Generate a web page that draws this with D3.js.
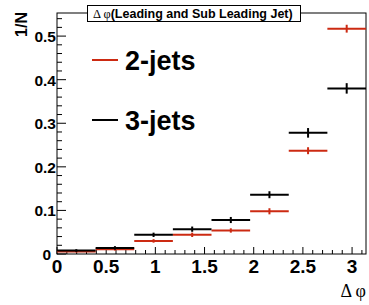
<!DOCTYPE html>
<html>
<head>
<meta charset="utf-8">
<script src="https://cdn.jsdelivr.net/npm/d3@7"></script>
<style>
  body { margin: 0; background: #fff; }
  text { font-family: "Liberation Sans", Arial, sans-serif; font-weight: bold; }
</style>
</head>
<body>
<div id="chartDiv"></div>
<script>
// bin contents (normalised), 8 bins over 0..pi
const binCount = 8;
const twoJets = [0.006, 0.011, 0.030, 0.044, 0.054, 0.098, 0.237, 0.517];
const twoJetsErr = [0.002, 0.003, 0.004, 0.005, 0.005, 0.007, 0.008, 0.009];
const threeJets = [0.008, 0.014, 0.044, 0.057, 0.078, 0.136, 0.278, 0.380];
const threeJetsErr = [0.003, 0.004, 0.005, 0.006, 0.007, 0.008, 0.011, 0.012];
const xTicks = [0, 0.5, 1, 1.5, 2, 2.5, 3];
const yTicks = [0, 0.1, 0.2, 0.3, 0.4, 0.5];
const seriesNames = ["2-jets", "3-jets"];
const seriesColors = ["#cc2a12", "#000000"];

const W = 369, H = 305;
const margin = { top: 13, right: 3, bottom: 51, left: 57 },
    width = W - margin.left - margin.right,
    height = H - margin.top - margin.bottom;

const svg = d3.select("#chartDiv")
    .append("svg")
    .attr("width", W)
    .attr("height", H);

const g = svg.append("g")
    .attr("transform", "translate(" + margin.left + "," + margin.top + ")");

const x = d3.scaleLinear().domain([0, Math.PI]).range([0, width]);
const y = d3.scaleLinear().domain([0, 0.553]).range([height, 0]);
const binW = Math.PI / binCount;

// frame
g.append("rect")
    .attr("width", width).attr("height", height)
    .attr("fill", "none").attr("stroke", "#000").attr("stroke-width", 1);

// x ticks: major every 0.5, minor every 0.1
d3.range(0, 3.15, 0.1).forEach(function(v) {
    const major = Math.abs(v * 2 - Math.round(v * 2)) < 1e-6;
    g.append("line")
        .attr("x1", x(v)).attr("x2", x(v))
        .attr("y1", height).attr("y2", height - (major ? 7 : 4))
        .attr("stroke", "#000");
});
g.selectAll(".xl").data(xTicks).enter().append("text")
    .attr("x", d => x(d))
    .attr("y", height + 19)
    .attr("text-anchor", "middle")
    .attr("font-size", 19)
    .text(d => d);

// y ticks: major every 0.1, minor every 0.02
d3.range(0, 0.555, 0.02).forEach(function(v) {
    const major = Math.abs(v * 10 - Math.round(v * 10)) < 1e-6;
    g.append("line")
        .attr("x1", 0).attr("x2", major ? 9 : 5)
        .attr("y1", y(v)).attr("y2", y(v))
        .attr("stroke", "#000");
});
g.selectAll(".yl").data(yTicks).enter().append("text")
    .attr("x", d => d === 0 ? -6 : -1)
    .attr("y", d => y(d) + 6)
    .attr("text-anchor", "end")
    .attr("font-size", 15.5)
    .text(d => d);

// histograms
[twoJets, threeJets].forEach(function(vals, s) {
    const errs = s === 0 ? twoJetsErr : threeJetsErr;
    const col = seriesColors[s];
    vals.forEach(function(v, i) {
        const x0 = i * binW, x1 = (i + 1) * binW, xc = (i + 0.5) * binW;
        g.append("line")
            .attr("x1", x(x0)).attr("x2", x(x1))
            .attr("y1", y(v)).attr("y2", y(v))
            .attr("stroke", col).attr("stroke-width", 2);
        g.append("line")
            .attr("x1", x(xc)).attr("x2", x(xc))
            .attr("y1", y(v - errs[i])).attr("y2", y(v + errs[i]))
            .attr("stroke", col).attr("stroke-width", 2);
    });
});

// legend
seriesNames.forEach(function(name, i) {
    const ly = 60 + i * 60;
    svg.append("line")
        .attr("x1", 92).attr("x2", 118)
        .attr("y1", ly).attr("y2", ly)
        .attr("stroke", seriesColors[i]).attr("stroke-width", 2);
    svg.append("text")
        .attr("x", 125).attr("y", ly + 10)
        .attr("font-size", 27)
        .text(name);
});

// title box
svg.append("rect")
    .attr("x", 87.5).attr("y", 5.5).attr("width", 213).attr("height", 16)
    .attr("fill", "#fff").attr("stroke", "#000");
const title = svg.append("text")
    .attr("x", 93).attr("y", 18)
    .attr("font-size", 12.5);
title.append("tspan")
    .style("font-family", "'Liberation Serif', 'DejaVu Serif', serif")
    .style("font-weight", "normal")
    .text("\u0394 \u03c6");
title.append("tspan")
    .text("(Leading and Sub Leading Jet)");

// axis titles
svg.append("text")
    .attr("transform", "translate(27,12) rotate(-90)")
    .attr("text-anchor", "end")
    .attr("font-size", 16)
    .text("1/N");
svg.append("text")
    .attr("x", 366).attr("y", 297)
    .attr("text-anchor", "end")
    .style("font-family", "'Liberation Serif', 'DejaVu Serif', serif")
    .style("font-weight", "normal")
    .attr("font-size", 18)
    .text("\u0394 \u03c6");
</script>
</body>
</html>
